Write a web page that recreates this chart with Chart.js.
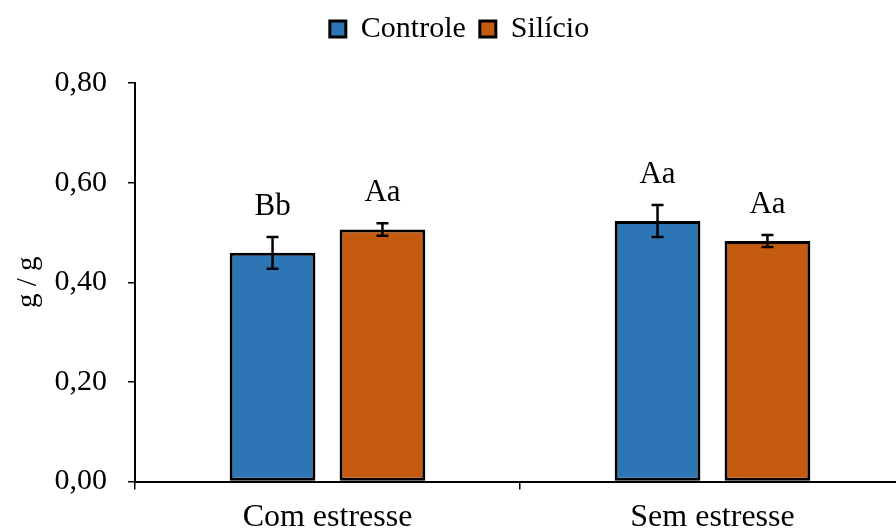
<!DOCTYPE html>
<html>
<head>
<meta charset="utf-8">
<script src="https://cdn.jsdelivr.net/npm/chart.js@4.4.1/dist/chart.umd.min.js"></script>
<style>
  html, body { margin: 0; padding: 0; overflow: hidden; background: #fff; }
  #wrap { width: 905px; height: 530px; }
</style>
</head>
<body>
<div id="wrap"><canvas id="grafico" width="905" height="530"></canvas></div>
<script>
const categorias = ['Com estresse', 'Sem estresse'];
const controle = [0.459, 0.523];
const silicio = [0.506, 0.483];
const erroControle = [0.032, 0.032];
const erroSilicio = [0.0125, 0.012];
const letrasControle = ['Bb', 'Aa'];
const letrasSilicio = ['Aa', 'Aa'];

const serif = "'Liberation Serif', 'Times New Roman', serif";
Chart.defaults.color = '#000';
Chart.defaults.font.family = serif;

// error bars + letters above each bar
const barExtras = {
  id: 'barExtras',
  afterDatasetsDraw(chart) {
    const ctx = chart.ctx;
    const y = chart.scales.y;
    chart.data.datasets.forEach((ds, i) => {
      const meta = chart.getDatasetMeta(i);
      meta.data.forEach((bar, j) => {
        const v = ds.data[j];
        const e = ds.erros[j];
        const yTop = y.getPixelForValue(v + e);
        const yBot = y.getPixelForValue(v - e);
        ctx.save();
        ctx.strokeStyle = '#000';
        ctx.lineWidth = 2.5;
        ctx.beginPath();
        ctx.moveTo(bar.x, yTop);
        ctx.lineTo(bar.x, yBot);
        ctx.moveTo(bar.x - 6, yTop);
        ctx.lineTo(bar.x + 6, yTop);
        ctx.moveTo(bar.x - 6, yBot);
        ctx.lineTo(bar.x + 6, yBot);
        ctx.stroke();
        ctx.fillStyle = '#000';
        ctx.font = '31px ' + serif;
        ctx.textAlign = 'center';
        ctx.textBaseline = 'alphabetic';
        ctx.fillText(ds.letras[j], bar.x, yTop - 22);
        ctx.restore();
      });
    });
  }
};

// extra room under the legend
const legendSpacer = {
  id: 'legendSpacer',
  beforeInit(chart) {
    const fit = chart.legend.fit;
    chart.legend.fit = function () {
      fit.bind(chart.legend)();
      this.height += 29;
    };
  }
};

const grafico = document.getElementById('grafico');

const myChart = new Chart(grafico, {
  type: 'bar',
  data: {
    labels: categorias,
    datasets: [
      {
        label: 'Controle',
        data: controle,
        erros: erroControle,
        letras: letrasControle,
        backgroundColor: '#2E75B6',
        borderColor: '#000',
        borderWidth: 3,
        borderSkipped: false,
        barPercentage: 0.78,
        categoryPercentage: 0.571
      },
      {
        label: 'Silício',
        data: silicio,
        erros: erroSilicio,
        letras: letrasSilicio,
        backgroundColor: '#C55A11',
        borderColor: '#000',
        borderWidth: 3,
        borderSkipped: false,
        barPercentage: 0.78,
        categoryPercentage: 0.571
      }
    ]
  },
  options: {
    responsive: false,
    animation: false,
    devicePixelRatio: 1,
    layout: { padding: { left: 14, right: 0, top: 0, bottom: 0 } },
    plugins: {
      legend: {
        position: 'top',
        labels: {
          boxWidth: 16,
          boxHeight: 16,
          padding: 14,
          color: '#000',
          font: { size: 30, family: serif }
        }
      },
      tooltip: { enabled: false }
    },
    scales: {
      x: {
        grid: {
          display: true,
          drawOnChartArea: false,
          drawTicks: true,
          tickLength: 8,
          color: '#000',
          lineWidth: 1.5
        },
        border: { display: true, color: '#000', width: 2 },
        ticks: {
          padding: 9,
          color: '#000',
          font: { size: 32, family: serif }
        },
        afterFit(scale) { scale.height = 48.5; }
      },
      y: {
        min: 0,
        max: 0.8,
        ticks: {
          stepSize: 0.2,
          padding: 21,
          color: '#000',
          font: { size: 30, family: serif },
          callback: v => v.toFixed(2).replace('.', ',')
        },
        grid: {
          display: true,
          drawOnChartArea: false,
          drawTicks: true,
          tickLength: 7,
          color: '#000',
          lineWidth: 1.5
        },
        border: { display: true, color: '#000', width: 2 },
        title: {
          display: true,
          text: 'g / g',
          color: '#000',
          padding: 0,
          font: { size: 29, family: serif, lineHeight: 1 }
        },
        afterFit(scale) { scale.width = 121; }
      }
    }
  },
  plugins: [barExtras, legendSpacer]
});
</script>
</body>
</html>
